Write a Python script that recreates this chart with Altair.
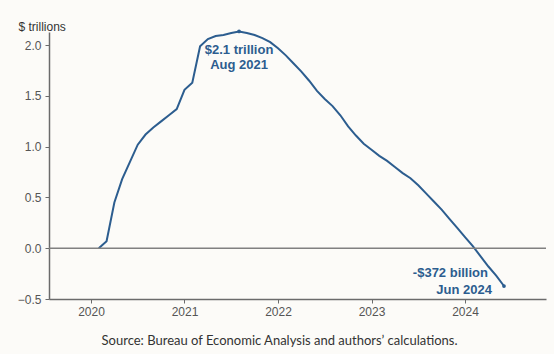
import altair as alt
import pandas as pd

# Monthly excess savings, $ trillions (Feb 2020 - Jun 2024)
months = pd.period_range("2020-02", "2024-06", freq="M").strftime("%Y-%m").tolist()
savings = [
    0.00, 0.07, 0.45, 0.68, 0.85, 1.02, 1.12, 1.19, 1.25, 1.31, 1.37,   # 2020 Feb-Dec
    1.56, 1.63, 1.99, 2.06, 2.09, 2.10, 2.12, 2.135, 2.12, 2.10, 2.07, 2.03,  # 2021
    1.97, 1.90, 1.82, 1.74, 1.65, 1.55, 1.47, 1.40, 1.31, 1.20, 1.11, 1.03,  # 2022
    0.97, 0.91, 0.86, 0.80, 0.74, 0.69, 0.62, 0.54, 0.46, 0.38, 0.29, 0.20,  # 2023
    0.11, 0.02, -0.08, -0.18, -0.27, -0.372,                                # 2024
]
x_ticks = [2020, 2021, 2022, 2023, 2024]
y_ticks = [-0.5, 0.0, 0.5, 1.0, 1.5, 2.0]
peak_labels = ["$2.1 trillion", "Aug 2021"]
end_labels = ["-$372 billion", "Jun 2024"]
source = "Source: Bureau of Economic Analysis and authors\u2019 calculations."

df = pd.DataFrame({"month": months, "savings": savings})
df["t"] = df["month"].str[:4].astype(int) + (df["month"].str[5:].astype(int) - 1) / 12

peak = df[df["month"] == "2021-08"].copy()
last = df[df["month"] == "2024-06"].copy()
marked = pd.concat([peak, last])

blue = "#2C5D8F"
xs = alt.Scale(domain=[2019.551, 2024.866], nice=False, zero=False)
ys = alt.Scale(domain=[-0.5, 2.13], nice=False, zero=False)

x_axis = alt.Axis(
    values=x_ticks, format="d", grid=False, tickSize=4, labelPadding=3,
    domainColor="#6b6b6b", tickColor="#6b6b6b", domainWidth=1.5,
    labelColor="#555555", labelFont="Liberation Sans", labelFontSize=12,
    title=source, titleFont="Lato", titleFontSize=13, titleFontWeight="normal",
    titleColor="#333333", titleX=230, titleY=41, titleBaseline="middle",
    titleAlign="center",
)
y_axis = alt.Axis(
    values=y_ticks, format=".1f", grid=False, tickSize=4, labelPadding=4,
    domainColor="#6b6b6b", tickColor="#6b6b6b", domainWidth=1.5,
    labelColor="#555555", labelFont="Liberation Sans", labelFontSize=12,
    title="$ trillions", titleAngle=0, titleAlign="left", titleX=-31, titleY=-6,
    titleBaseline="middle", titleFont="Liberation Sans", titleFontSize=12,
    titleFontWeight="normal", titleColor="#333333",
)

line = alt.Chart(df).mark_line(color=blue, strokeWidth=2).encode(
    x=alt.X("t:Q", scale=xs, axis=x_axis),
    y=alt.Y("savings:Q", scale=ys, axis=y_axis),
)

zero = alt.Chart(pd.DataFrame({"v": [0.0]})).mark_rule(color="#808080", strokeWidth=1.5).encode(
    y=alt.Y("v:Q", scale=ys, axis=y_axis)
)

dots = alt.Chart(marked).mark_point(filled=True, color=blue, size=14, opacity=1).encode(
    x=alt.X("t:Q", scale=xs, axis=x_axis), y=alt.Y("savings:Q", scale=ys, axis=y_axis)
)

def label(frame, text, **kw):
    return alt.Chart(frame).mark_text(
        font="Liberation Sans", fontSize=13, fontWeight="bold", color=blue,
        baseline="middle", **kw
    ).encode(
        x=alt.X("t:Q", scale=xs, axis=x_axis),
        y=alt.Y("savings:Q", scale=ys, axis=y_axis),
        text=alt.value(text),
    )

t1 = label(peak, peak_labels[0], align="center", dx=0, dy=19)
t2 = label(peak, peak_labels[1], align="center", dx=0, dy=34)
t3 = label(last, end_labels[0], align="right", dx=-16, dy=-13)
t4 = label(last, end_labels[1], align="right", dx=-12, dy=4)

chart = alt.layer(line, zero, dots, t1, t2, t3, t4).properties(
    width=497, height=267,
    autosize=alt.AutoSizeParams(type="none"),
    padding={"left": 49, "top": 32, "right": 8, "bottom": 55},
    background="#FCFBF8",
).configure_view(stroke=None)

chart.save("out.html", embed_options={"renderer": "svg", "actions": False})
